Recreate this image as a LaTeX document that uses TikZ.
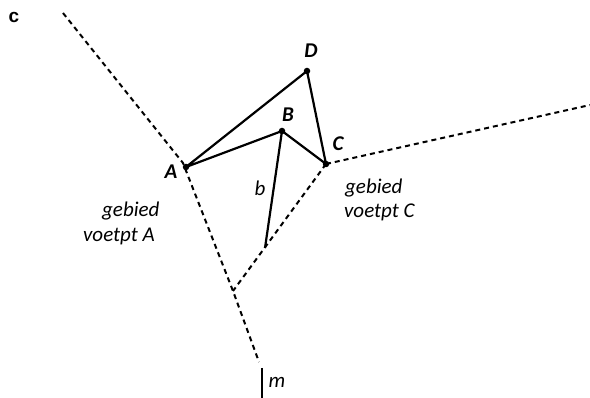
\documentclass[tikz,border=0pt]{standalone}
\usepackage{fontspec}
\setmainfont{Carlito}
\newfontfamily\labfont{Liberation Sans}
\begin{document}
\begin{tikzpicture}[x=1pt,y=-1pt,
  seg/.style={line width=2.2pt},
  dsh/.style={line width=2pt,dash pattern=on 5pt off 4pt},
  pt/.style={circle,fill=black,inner sep=0pt,minimum size=6.5pt},
  plab/.style={inner sep=0pt,font=\fontsize{21}{24}\selectfont\bfseries\itshape},
  txt/.style={inner sep=0pt,font=\fontsize{21}{24}\selectfont\itshape}]
\useasboundingbox (0,0) rectangle (590,398);
\node[pt] (A) at (186,167) {};
\node[pt] (B) at (282,131) {};
\node[pt] (C) at (326,164) {};
\node[pt] (D) at (307,71) {};
\coordinate (T) at (63,13);
\coordinate (K) at (183,163);
\coordinate (J) at (233,291);
\coordinate (L) at (259,362);
\coordinate (R) at (590,105);
\coordinate (b1) at (265,248);
\coordinate (m1) at (262,368);
\coordinate (m2) at (262,398);
\draw[dsh] (T) -- (K) -- (J) -- (L);
\draw[dsh] (C.center) -- (R);
\draw[dsh] (C.center) -- (J);
\draw[seg] (A.center) -- (D.center) -- (C.center) -- (B.center) -- (A.center);
\draw[seg] (B.center) -- (b1);
\draw[seg] (m1) -- (m2);
\node[plab] (lA) at (171,172) {A};
\node[plab] (lB) at (288,115) {B};
\node[plab] (lC) at (338,144) {C};
\node[plab] (lD) at (311,51) {D};
\node[txt] (lb) at (260,188) {b};
\node[txt] (lm) at (277,382) {m};
\node[inner sep=0pt,font=\labfont\fontsize{19}{22}\selectfont\bfseries] (lc) at (14,17) {c};
\node[txt,anchor=west] (gA1) at (102,211) {gebied};
\node[txt,anchor=west] (gA2) at (83,236) {voetpt A};
\node[txt,anchor=west] (gC1) at (345,188) {gebied};
\node[txt,anchor=west] (gC2) at (344,212) {voetpt C};
\end{tikzpicture}
\end{document}
